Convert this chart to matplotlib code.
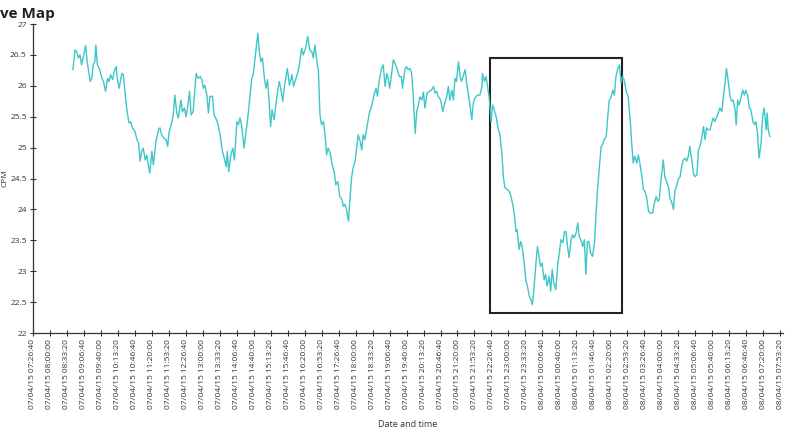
import matplotlib

matplotlib.use("Agg")
import matplotlib.pyplot as plt
import matplotlib.dates as mdates
import pandas as pd
from matplotlib.patches import Rectangle

# CPM readings, 07/04/15 08:45 -> 08/04/15 07:33 (clock time, day rolls over at midnight)
clock = [
    "08:45", "08:49", "08:52", "08:56", "08:59", "09:02", "09:05", "09:10", "09:13", "09:19",
    "09:22", "09:25", "09:28", "09:30", "09:33", "09:37", "09:42", "09:45", "09:49", "09:53",
    "09:56", "09:59", "10:03", "10:06", "10:10", "10:12", "10:16", "10:21", "10:24", "10:27",
    "10:31", "10:35", "10:38", "10:42", "10:47", "10:50", "10:54", "10:57", "11:00", "11:03",
    "11:07", "11:10", "11:13", "11:16", "11:20", "11:23", "11:28", "11:33", "11:36", "11:39",
    "11:44", "11:48", "11:51", "11:54", "11:58", "12:02", "12:05", "12:09", "12:12", "12:17",
    "12:20", "12:24", "12:27", "12:30", "12:34", "12:37", "12:41", "12:47", "12:51", "12:55",
    "12:58", "13:01", "13:04", "13:08", "13:11", "13:14", "13:19", "13:22", "13:27", "13:30",
    "13:34", "13:38", "13:42", "13:46", "13:48", "13:51", "13:55", "13:59", "14:02", "14:07",
    "14:10", "14:13", "14:16", "14:21", "14:25", "14:29", "14:36", "14:39", "14:44", "14:48",
    "14:51", "14:54", "14:57", "15:01", "15:04", "15:07", "15:11", "15:13", "15:16", "15:20",
    "15:25", "15:30", "15:33", "15:37", "15:41", "15:46", "15:50", "15:55", "15:58", "16:01",
    "16:06", "16:09", "16:14", "16:17", "16:21", "16:26", "16:30", "16:34", "16:37", "16:40",
    "16:44", "16:47", "16:50", "16:53", "16:57", "17:00", "17:03", "17:06", "17:10", "17:14",
    "17:18", "17:21", "17:25", "17:29", "17:33", "17:36", "17:39", "17:42", "17:46", "17:49",
    "17:52", "17:55", "17:59", "18:02", "18:05", "18:09", "18:12", "18:15", "18:18", "18:22",
    "18:27", "18:32", "18:36", "18:40", "18:43", "18:46", "18:51", "18:54", "18:58", "19:01",
    "19:04", "19:07", "19:11", "19:14", "19:17", "19:21", "19:26", "19:30", "19:32", "19:37",
    "19:40", "19:43", "19:47", "19:50", "19:53", "19:57", "20:00", "20:03", "20:06", "20:10",
    "20:13", "20:16", "20:20", "20:25", "20:29", "20:33", "20:36", "20:39", "20:42", "20:47",
    "20:51", "20:55", "20:59", "21:02", "21:05", "21:09", "21:12", "21:15", "21:18", "21:22",
    "21:25", "21:28", "21:31", "21:35", "21:38", "21:41", "21:45", "21:48", "21:51", "21:54",
    "21:59", "22:04", "22:08", "22:09", "22:13", "22:16", "22:19", "22:22", "22:26", "22:29",
    "22:32", "22:36", "22:40", "22:43", "22:47", "22:50", "22:53", "22:58", "23:02", "23:04",
    "23:08", "23:12", "23:15", "23:17", "23:21", "23:24", "23:27", "23:31", "23:34", "23:38",
    "23:41", "23:44", "23:47", "23:50", "23:54", "23:57", "00:00", "00:03", "00:06", "00:10",
    "00:13", "00:16", "00:20", "00:23", "00:26", "00:29", "00:33", "00:37", "00:40", "00:43",
    "00:47", "00:50", "00:53", "00:56", "00:59", "01:03", "01:06", "01:09", "01:13", "01:16",
    "01:19", "01:22", "01:26", "01:29", "01:32", "01:35", "01:38", "01:41", "01:45", "01:49",
    "01:52", "01:55", "01:58", "02:02", "02:05", "02:08", "02:12", "02:15", "02:18", "02:21",
    "02:25", "02:28", "02:31", "02:34", "02:38", "02:41", "02:44", "02:47", "02:52", "02:55",
    "02:59", "03:02", "03:05", "03:08", "03:12", "03:15", "03:18", "03:22", "03:25", "03:28",
    "03:31", "03:35", "03:38", "03:43", "03:46", "03:50", "03:53", "03:56", "03:59", "04:04",
    "04:07", "04:11", "04:14", "04:17", "04:20", "04:24", "04:27", "04:30", "04:33", "04:37",
    "04:40", "04:43", "04:47", "04:50", "04:53", "04:56", "05:00", "05:03", "05:06", "05:10",
    "05:13", "05:16", "05:19", "05:23", "05:26", "05:29", "05:32", "05:36", "05:39", "05:42",
    "05:45", "05:49", "05:52", "05:55", "05:59", "06:02", "06:05", "06:08", "06:12", "06:15",
    "06:18", "06:21", "06:25", "06:27", "06:30", "06:33", "06:37", "06:40", "06:43", "06:46",
    "06:50", "06:53", "06:56", "07:00", "07:03", "07:06", "07:09", "07:12", "07:16", "07:19",
    "07:22", "07:26", "07:28", "07:30", "07:33",
]

cpm = [
    26.26, 26.58, 26.56, 26.45, 26.50, 26.34, 26.45, 26.65, 26.39, 26.07,
    26.12, 26.34, 26.39, 26.66, 26.34, 26.28, 26.12, 26.07, 25.91, 26.12,
    26.07, 26.18, 26.10, 26.23, 26.31, 26.12, 25.96, 26.20, 26.18, 25.91,
    25.61, 25.40, 25.42, 25.32, 25.26, 25.15, 25.07, 24.78, 24.94, 24.99,
    24.80, 24.88, 24.72, 24.59, 24.94, 24.72, 25.10, 25.29, 25.32, 25.21,
    25.15, 25.13, 25.02, 25.26, 25.37, 25.53, 25.85, 25.56, 25.48, 25.77,
    25.58, 25.64, 25.50, 25.64, 25.91, 25.53, 25.58, 26.20, 26.12, 26.15,
    26.10, 25.96, 26.01, 25.85, 25.56, 25.83, 25.83, 25.53, 25.45, 25.37,
    25.21, 24.96, 24.83, 24.69, 24.94, 24.61, 24.88, 24.99, 24.80, 25.42,
    25.37, 25.48, 25.37, 24.99, 25.26, 25.53, 26.12, 26.18, 26.55, 26.85,
    26.55, 26.39, 26.45, 26.12, 25.96, 26.10, 25.64, 25.34, 25.61, 25.45,
    25.80, 26.07, 25.96, 25.75, 26.04, 26.28, 26.01, 26.18, 25.99, 26.07,
    26.20, 26.31, 26.61, 26.50, 26.58, 26.80, 26.58, 26.55, 26.45, 26.66,
    26.39, 26.23, 25.53, 25.37, 25.42, 25.21, 24.88, 24.99, 24.91, 24.72,
    24.61, 24.40, 24.45, 24.21, 24.16, 24.05, 24.08, 24.00, 23.81, 24.18,
    24.51, 24.67, 24.78, 24.99, 25.21, 25.10, 24.96, 25.21, 25.13, 25.32,
    25.56, 25.69, 25.85, 25.96, 25.83, 26.07, 26.28, 26.34, 25.99, 26.20,
    26.12, 25.96, 26.23, 26.42, 26.37, 26.28, 26.15, 26.15, 25.96, 26.28,
    26.31, 26.26, 26.28, 26.20, 25.85, 25.23, 25.58, 25.69, 25.82, 25.77,
    25.90, 25.64, 25.88, 25.91, 25.93, 25.99, 25.88, 25.91, 25.83, 25.77,
    25.58, 25.72, 25.83, 25.99, 25.77, 25.93, 25.77, 26.12, 26.07, 26.39,
    26.15, 26.07, 26.15, 26.26, 26.04, 25.88, 25.66, 25.45, 25.72, 25.80,
    25.85, 25.85, 25.99, 26.20, 26.07, 26.15, 25.99, 25.83, 25.42, 25.69,
    25.61, 25.50, 25.29, 25.23, 24.91, 24.53, 24.35, 24.32, 24.29, 24.24,
    24.10, 23.89, 23.64, 23.67, 23.35, 23.48, 23.40, 23.13, 22.86, 22.73,
    22.59, 22.54, 22.46, 22.70, 23.13, 23.40, 23.24, 23.08, 23.13, 22.86,
    22.95, 22.76, 22.92, 22.68, 23.03, 22.81, 22.70, 23.13, 23.30, 23.51,
    23.46, 23.64, 23.64, 23.40, 23.22, 23.51, 23.59, 23.54, 23.62, 23.78,
    23.56, 23.51, 23.40, 23.51, 22.95, 23.48, 23.48, 23.30, 23.24, 23.46,
    23.94, 24.32, 24.64, 25.02, 25.05, 25.13, 25.18, 25.50, 25.77, 25.80,
    25.93, 25.85, 26.15, 26.26, 26.34, 26.04, 26.15, 26.10, 25.89, 25.83,
    25.45, 25.07, 24.75, 24.86, 24.75, 24.88, 24.75, 24.53, 24.32, 24.29,
    24.21, 23.97, 23.94, 23.94, 24.08, 24.21, 24.13, 24.16, 24.43, 24.80,
    24.53, 24.43, 24.37, 24.18, 24.13, 24.00, 24.32, 24.37, 24.48, 24.53,
    24.69, 24.80, 24.83, 24.78, 24.86, 25.02, 24.80, 24.59, 24.53, 24.56,
    24.96, 25.02, 25.13, 25.34, 25.13, 25.32, 25.29, 25.29, 25.40, 25.48,
    25.42, 25.50, 25.56, 25.64, 25.58, 25.83, 26.04, 26.28, 26.04, 25.83,
    25.75, 25.77, 25.61, 25.37, 25.77, 25.69, 25.83, 25.93, 25.85, 25.93,
    25.83, 25.64, 25.61, 25.42, 25.37, 25.42, 25.23, 24.83, 25.07, 25.50,
    25.64, 25.29, 25.56, 25.29, 25.18,
]

first_day = "2015-04-07"
tick_start = "2015-04-07 07:26:40"
tick_step = "2000s"
tick_count = 45
x_end = "2015-04-08 07:59:00"
y_ticks = [22, 22.5, 23, 23.5, 24, 24.5, 25, 25.5, 26, 26.5, 27]

# highlighted window (the dip around midnight)
box_start = "2015-04-07 22:24:00"
box_end = "2015-04-08 02:43:00"
box_low, box_high = 22.33, 26.45

# build timestamps, rolling to the next day when the clock goes backwards
stamps = []
day = pd.Timestamp(first_day)
prev = None
for c in clock:
    t = pd.Timedelta(hours=int(c[:2]), minutes=int(c[3:]))
    if prev is not None and t < prev:
        day += pd.Timedelta(days=1)
    prev = t
    stamps.append(day + t)
df = pd.DataFrame({"time": stamps, "cpm": cpm})

plt.rcParams["font.family"] = ["Open Sans", "DejaVu Sans"]
text_color = "#333333"

fig = plt.figure(figsize=(8, 4.34), dpi=100)
ax = fig.add_axes([0.04125, 0.2327, 0.9375, 0.712])

ax.plot(df["time"], df["cpm"], color="#3EC6C8", linewidth=1.0)

x0 = mdates.date2num(pd.Timestamp(box_start))
x1 = mdates.date2num(pd.Timestamp(box_end))
ax.add_patch(Rectangle((x0, box_low), x1 - x0, box_high - box_low,
                       fill=False, edgecolor="#222222", linewidth=1.5))

ticks = pd.date_range(tick_start, periods=tick_count, freq=tick_step)
ax.set_xticks(ticks)
ax.set_xticklabels([t.strftime("%d/%m/%y %H:%M:%S") for t in ticks],
                   rotation=90, fontsize=6, color=text_color)
ax.set_xlim(pd.Timestamp(tick_start), pd.Timestamp(x_end))

ax.set_ylim(22, 27)
ax.set_yticks(y_ticks)
ax.set_yticklabels([f"{v:g}" for v in y_ticks], fontsize=6, color=text_color)

ax.tick_params(direction="inout", length=5, width=0.8, color=text_color, pad=2)
for side in ("top", "right"):
    ax.spines[side].set_visible(False)
for side in ("left", "bottom"):
    ax.spines[side].set_color(text_color)
    ax.spines[side].set_linewidth(0.9)

ax.set_ylabel("CPM", fontsize=6, color=text_color)
ax.yaxis.set_label_coords(-0.033, 0.5)
ax.set_xlabel("Date and time", fontsize=6.5, color=text_color, labelpad=8)

fig.text(0.0, 0.985, "ve Map", fontsize=11, fontweight="bold", color="#222222",
         ha="left", va="top")

fig.savefig("out.png", dpi=100)
plt.close(fig)
